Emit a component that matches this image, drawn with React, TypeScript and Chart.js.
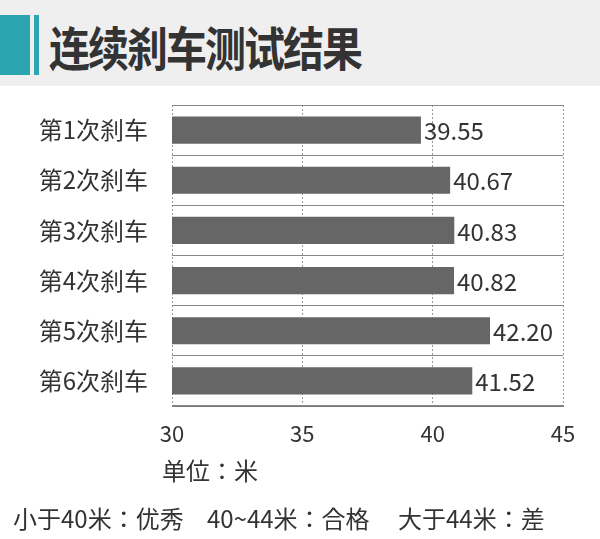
import { useEffect, useRef } from "react"
import { Chart, registerables } from "chart.js"

Chart.register(...registerables)

const FONT = '"Noto Sans CJK SC", "Noto Sans", sans-serif'
// centred full-width colon, as in the picture
const NOTE_FONT = '"Noto Sans CJK JP", "Noto Sans CJK SC", sans-serif'

// data
const categories = ["第1次刹车", "第2次刹车", "第3次刹车", "第4次刹车", "第5次刹车", "第6次刹车"]
const distances = [39.55, 40.67, 40.83, 40.82, 42.2, 41.52]
const axisMin = 30
const axisMax = 45
const axisStep = 5

const titleText = "连续刹车测试结果"
const unitText = "单位：米"
const noteParts = ["小于40米：优秀", "40~44米：合格", "大于44米：差"]
const noteLefts = [13, 207, 398]

const valueLabels = {
  id: "valueLabels",
  afterDatasetsDraw(chart: Chart) {
    const ctx = chart.ctx
    const meta = chart.getDatasetMeta(0)
    ctx.save()
    ctx.font = `24px ${FONT}`
    ctx.fillStyle = "#333333"
    ctx.textAlign = "left"
    ctx.textBaseline = "middle"
    meta.data.forEach((bar: any, i) => {
      ctx.fillText(distances[i].toFixed(2), bar.x + 3, bar.y + 1)
    })
    ctx.restore()
  },
}

function BrakeChart() {
  const chartRef = useRef<HTMLCanvasElement>(null)
  const chartInstance = useRef<Chart | null>(null)

  useEffect(() => {
    if (!chartRef.current) return
    if (chartInstance.current) chartInstance.current.destroy()

    const ctx = chartRef.current.getContext("2d")
    if (!ctx) return

    chartInstance.current = new Chart(ctx, {
      type: "bar",
      data: {
        labels: categories,
        datasets: [
          {
            data: distances,
            backgroundColor: "#666666",
            borderWidth: 0,
            barPercentage: 0.54,
            categoryPercentage: 1,
          },
        ],
      },
      options: {
        indexAxis: "y",
        animation: false,
        responsive: true,
        maintainAspectRatio: false,
        layout: {
          padding: { top: 105, right: 37, bottom: 83, left: 0 },
        },
        scales: {
          x: {
            min: axisMin,
            max: axisMax,
            ticks: {
              stepSize: axisStep,
              color: "#333333",
              font: { family: FONT, size: 22 },
              padding: 14,
            },
            grid: { color: "#9a9a9a", drawTicks: false },
            border: { display: true, color: "#777777", width: 1, dash: [2, 2] },
            afterFit: (scale: any) => {
              scale.height = 50
            },
          },
          y: {
            ticks: {
              color: "#333333",
              font: { family: FONT, size: 24 },
              padding: 24,
            },
            grid: { color: "#888888", drawTicks: false },
            border: { display: false },
            afterFit: (scale: any) => {
              scale.width = 172
            },
          },
        },
        plugins: {
          legend: { display: false },
          tooltip: { enabled: false },
        },
      },
      plugins: [valueLabels],
    })

    return () => {
      if (chartInstance.current) {
        chartInstance.current.destroy()
        chartInstance.current = null
      }
    }
  }, [])

  return (
    <div style={{ position: "absolute", left: 0, top: 0, width: 600, height: 539 }}>
      <canvas ref={chartRef} />
    </div>
  )
}

export default function App() {
  return (
    <div
      style={{
        position: "absolute",
        left: 0,
        top: 0,
        width: 600,
        height: 539,
        background: "#ffffff",
        overflow: "hidden",
        fontFamily: FONT,
      }}
    >
      <div style={{ position: "absolute", left: 0, top: 0, width: 600, height: 86, background: "#efefef" }} />
      <div style={{ position: "absolute", left: 0, top: 15, width: 30, height: 60, background: "#2ba6b0" }} />
      <div style={{ position: "absolute", left: 34, top: 15, width: 5, height: 60, background: "#2ba6b0" }} />
      <div
        style={{
          position: "absolute",
          left: 49,
          top: 19,
          fontSize: 41,
          lineHeight: "52px",
          fontWeight: 700,
          letterSpacing: -2,
          color: "#333333",
          whiteSpace: "nowrap",
          transform: "scaleY(1.15)",
          transformOrigin: "left center",
        }}
      >
        {titleText}
      </div>
      <BrakeChart />
      <div
        style={{
          position: "absolute",
          left: 162,
          top: 454,
          fontSize: 24,
          lineHeight: "32px",
          fontFamily: NOTE_FONT,
          color: "#333333",
          whiteSpace: "nowrap",
        }}
      >
        {unitText}
      </div>
      {noteParts.map((part, i) => (
        <div
          key={part}
          style={{
            position: "absolute",
            left: noteLefts[i],
            top: 502,
            fontSize: 24,
            lineHeight: "32px",
            fontFamily: NOTE_FONT,
            color: "#333333",
            whiteSpace: "nowrap",
          }}
        >
          {part}
        </div>
      ))}
    </div>
  )
}
